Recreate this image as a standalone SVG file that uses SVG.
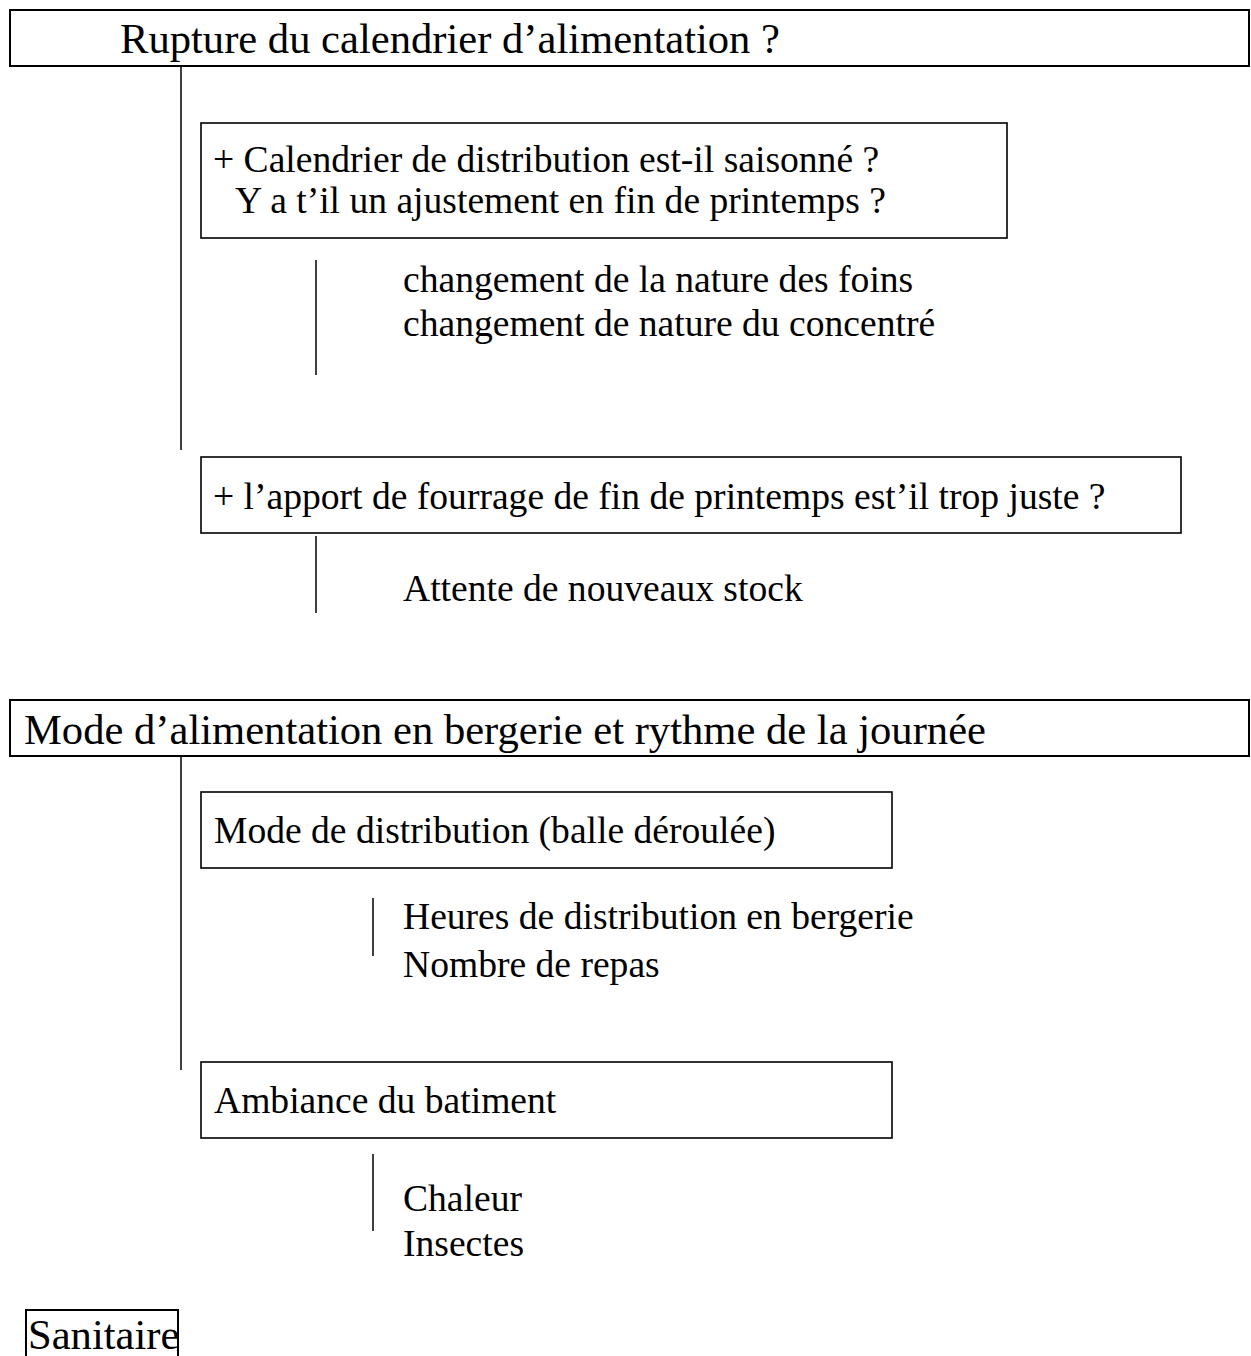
<svg xmlns="http://www.w3.org/2000/svg" width="1251" height="1356" viewBox="0 0 1251 1356">
<style>
.box{fill:#fff;stroke:#000;stroke-width:2}
.sub{fill:#fff;stroke:#000;stroke-width:1.6}
.ln{stroke:#000;stroke-width:1.5;fill:none}
text{font-family:"Liberation Serif","Times New Roman",serif;fill:#000}
.h{font-size:42.6px}
.t{font-size:37.6px}
</style>
<rect width="1251" height="1356" fill="#fff"/>
<g id="connectors">
<line class="ln" x1="181" y1="66" x2="181" y2="450"/>
<line class="ln" x1="316" y1="260" x2="316" y2="375"/>
<line class="ln" x1="316" y1="536" x2="316" y2="613"/>
<line class="ln" x1="181" y1="757" x2="181" y2="1070"/>
<line class="ln" x1="373" y1="898" x2="373" y2="956"/>
<line class="ln" x1="373" y1="1154" x2="373" y2="1231"/>
</g>
<g id="rupture">
<rect class="box" x="10" y="10" width="1239" height="56"/>
<text class="h" x="120" y="53">Rupture du calendrier d’alimentation ?</text>
</g>
<g id="calendrier">
<rect class="sub" x="201" y="123" width="806" height="115"/>
<text class="t" x="213" y="172">+ Calendrier de distribution est-il saisonné ?</text>
<text class="t" x="235" y="213">Y a t’il un ajustement en fin de printemps ?</text>
</g>
<g id="changements">
<text class="t" x="403" y="292">changement de la nature des foins</text>
<text class="t" x="403" y="336">changement de nature du concentré</text>
</g>
<g id="apport">
<rect class="sub" x="201" y="457" width="980" height="76"/>
<text class="t" x="213" y="509">+ l’apport de fourrage de fin de printemps est’il trop juste ?</text>
</g>
<g id="attente">
<text class="t" x="403" y="601">Attente de nouveaux stock</text>
</g>
<g id="mode">
<rect class="box" x="10" y="700" width="1239" height="56"/>
<text class="h" x="24" y="744">Mode d’alimentation en bergerie et rythme de la journée</text>
</g>
<g id="distribution">
<rect class="sub" x="201" y="792" width="691" height="76"/>
<text class="t" x="214" y="843">Mode de distribution (balle déroulée)</text>
</g>
<g id="heures">
<text class="t" x="403" y="929">Heures de distribution en bergerie</text>
<text class="t" x="403" y="977">Nombre de repas</text>
</g>
<g id="ambiance">
<rect class="sub" x="201" y="1062" width="691" height="76"/>
<text class="t" x="214" y="1113">Ambiance du batiment</text>
</g>
<g id="chaleur">
<text class="t" x="403" y="1211">Chaleur</text>
<text class="t" x="403" y="1256">Insectes</text>
</g>
<g id="sanitaire">
<rect class="box" x="26" y="1310" width="152" height="60"/>
<text class="h" x="28" y="1349">Sanitaire</text>
</g>
</svg>
